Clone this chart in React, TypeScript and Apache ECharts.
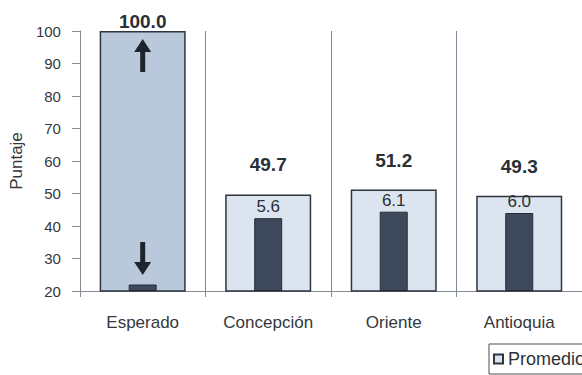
import React, { useEffect, useRef } from "react";
import * as echarts from "echarts";

const categories = ["Esperado", "Concepción", "Oriente", "Antioquia"];
const promedio = [100.0, 49.7, 51.2, 49.3];
const desviacion = [0.5, 5.6, 6.1, 6.0];
const showDesvLabel = [false, true, true, true];
const yTicks = { min: 20, max: 100, interval: 10 };
const arrowUpValue = 92.5;
const arrowDownValue = 30;

const FONT = "'Liberation Sans', Arial, sans-serif";

export default function App() {
  const ref = useRef<HTMLDivElement>(null);
  useEffect(() => {
    if (!ref.current) return;
    const chart = echarts.init(ref.current, undefined, { renderer: "svg" });
    const arrowPath = "path://M8.5,0 L17,13 L11,13 L11,33 L6,33 L6,13 L0,13 Z";
    chart.setOption({
      animation: false,
      backgroundColor: "#ffffff",
      textStyle: { fontFamily: FONT },
      grid: { left: 74, top: 31, width: 508, height: 260 },
      legend: {
        data: ["Promedio"],
        left: 489,
        top: 344,
        padding: [6, 4],
        borderColor: "#4a4f57",
        borderWidth: 1,
        itemWidth: 9,
        itemHeight: 9,
        icon: "rect",
        itemGap: 4,
        textStyle: { fontSize: 18, color: "#2e3238", fontFamily: FONT },
      },
      xAxis: [
        {
          type: "category",
          data: categories,
          axisLine: { lineStyle: { color: "#858b94", width: 1 } },
          axisTick: { show: true, length: 6, lineStyle: { color: "#858b94" } },
          splitLine: { show: true, lineStyle: { color: "#7f8895", width: 1 } },
          axisLabel: { fontSize: 17, color: "#34383e", margin: 23, fontFamily: FONT },
        },
        { type: "category", data: categories, show: false },
      ],
      yAxis: [
        {
          type: "value",
          min: yTicks.min,
          max: yTicks.max,
          interval: yTicks.interval,
          name: "Puntaje",
          nameLocation: "middle",
          nameGap: 38,
          nameTextStyle: { fontSize: 17, color: "#34383e", fontFamily: FONT },
          axisLine: { show: true, lineStyle: { color: "#858b94", width: 1 } },
          axisTick: { show: true, length: 8, lineStyle: { color: "#858b94" } },
          splitLine: { show: false },
          axisLabel: { fontSize: 15, color: "#34383e", margin: 19, fontFamily: FONT },
        },
        { type: "value", min: 0, max: 20, show: false, splitLine: { show: false } },
      ],
      series: [
        {
          name: "Promedio",
          type: "bar",
          xAxisIndex: 0,
          yAxisIndex: 0,
          barWidth: 86,
          itemStyle: { color: "#dce5ef", borderColor: "#2d3540", borderWidth: 1.5 },
          label: {
            show: true,
            position: "top",
            distance: 20,
            fontSize: 19,
            fontWeight: "bold",
            color: "#2b2f36",
            fontFamily: FONT,
            formatter: (p: any) => Number(p.value).toFixed(1),
          },
          data: promedio.map((v, i) =>
            i === 0
              ? { value: v, itemStyle: { color: "#b9c8da" }, label: { distance: 0 } }
              : { value: v }
          ),
          markPoint: {
            silent: true,
            label: { show: false },
            itemStyle: { color: "#1e242c" },
            data: [
              { coord: [categories[0], arrowUpValue], symbol: arrowPath, symbolSize: [17, 33] },
              {
                coord: [categories[0], arrowDownValue],
                symbol: arrowPath,
                symbolSize: [17, 33],
                symbolRotate: 180,
              },
            ],
          },
          z: 2,
        },
        {
          name: "Desviación",
          type: "bar",
          xAxisIndex: 1,
          yAxisIndex: 1,
          barWidth: 28,
          itemStyle: { color: "#3e4a5c", borderColor: "#252c36", borderWidth: 1 },
          label: {
            show: true,
            position: "top",
            distance: 3,
            fontSize: 17,
            color: "#2b2f36",
            fontFamily: FONT,
            formatter: (p: any) => Number(p.value).toFixed(1),
          },
          data: desviacion.map((v, i) =>
            showDesvLabel[i] ? { value: v } : { value: v, label: { show: false } }
          ),
          z: 3,
        },
      ],
    });
    return () => chart.dispose();
  }, []);
  return (
    <div
      style={{
        position: "absolute",
        left: 0,
        top: 0,
        width: 582,
        height: 375,
        overflow: "hidden",
        background: "#fff",
      }}
    >
      <div ref={ref} style={{ width: 700, height: 375 }} />
    </div>
  );
}
